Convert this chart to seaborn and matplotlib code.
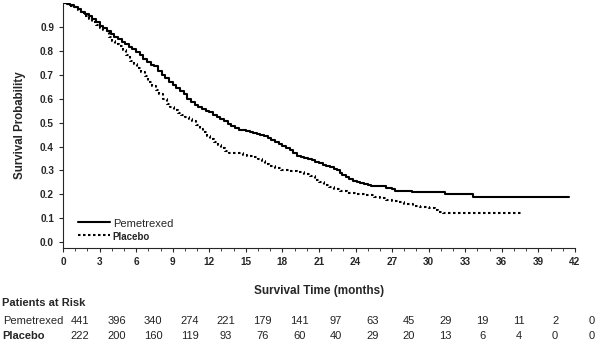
import numpy as np
import pandas as pd
import seaborn as sns
import matplotlib.pyplot as plt
from matplotlib.lines import Line2D
from matplotlib.ticker import MultipleLocator

sns.set_style("ticks")
plt.rcParams['font.family'] = ['Liberation Sans', 'DejaVu Sans']

# Kaplan-Meier step curves (months, survival probability)
pem_time = [0, 0.3, 0.6, 0.9, 1.2, 1.5, 1.8, 2.1, 2.4, 2.7, 3.0, 3.3, 3.6, 3.9, 4.2,
            4.5, 4.8, 5.1, 5.4, 5.7, 6.0, 6.3, 6.6, 6.9, 7.2, 7.5, 7.8, 8.1, 8.4, 8.7,
            9.0, 9.3, 9.6, 9.9, 10.2, 10.5, 10.8, 11.1, 11.4, 11.7, 12.0, 12.3, 12.6,
            12.9, 13.2, 13.5, 13.8, 14.1, 14.4, 14.7, 15.0, 15.3, 15.6, 15.9, 16.2,
            16.5, 16.8, 17.1, 17.4, 17.7, 18.0, 18.3, 18.6, 18.9, 19.2, 19.5, 19.8,
            20.1, 20.4, 20.7, 21.0, 21.3, 21.6, 21.9, 22.2, 22.5, 22.7, 22.9, 23.2,
            23.5, 23.8, 24.1, 24.4, 24.7, 25.0, 25.3, 26.0, 26.5, 27.0, 27.2, 28.6,
            31.3, 33.6, 41.5]
pem_surv = [1.0, 0.997, 0.993, 0.985, 0.975, 0.965, 0.955, 0.945, 0.935, 0.92, 0.905,
            0.895, 0.885, 0.872, 0.86, 0.848, 0.838, 0.828, 0.818, 0.808, 0.797, 0.783,
            0.768, 0.752, 0.742, 0.735, 0.718, 0.70, 0.685, 0.67, 0.658, 0.645, 0.632,
            0.618, 0.60, 0.585, 0.575, 0.566, 0.558, 0.55, 0.543, 0.532, 0.522, 0.514,
            0.505, 0.495, 0.484, 0.476, 0.471, 0.468, 0.466, 0.462, 0.458, 0.454, 0.45,
            0.443, 0.435, 0.426, 0.418, 0.41, 0.402, 0.393, 0.384, 0.372, 0.362, 0.357,
            0.353, 0.348, 0.342, 0.336, 0.33, 0.324, 0.318, 0.314, 0.308, 0.303, 0.29,
            0.28, 0.272, 0.265, 0.258, 0.25, 0.248, 0.243, 0.238, 0.234, 0.233, 0.228,
            0.223, 0.215, 0.21, 0.20, 0.188, 0.188]

pla_time = [0, 0.3, 0.6, 0.9, 1.2, 1.5, 1.8, 2.1, 2.4, 2.7, 3.0, 3.3, 3.6, 3.8, 4.0,
            4.3, 4.6, 4.9, 5.2, 5.5, 5.8, 6.1, 6.4, 6.7, 7.0, 7.3, 7.6, 7.9, 8.2, 8.5,
            8.8, 9.1, 9.4, 9.7, 10.0, 10.3, 10.6, 10.9, 11.2, 11.5, 11.8, 12.1, 12.4,
            12.7, 13.0, 13.3, 13.6, 14.2, 14.8, 15.1, 15.6, 16.0, 16.3, 16.6, 16.9,
            17.4, 17.9, 18.5, 19.2, 19.8, 20.3, 20.7, 21.0, 21.4, 21.8, 22.2, 22.7,
            23.3, 24.0, 24.8, 25.5, 26.0, 26.5, 27.0, 27.5, 28.0, 28.7, 29.3, 30.0,
            30.5, 30.8, 31.2, 37.6]
pla_surv = [1.0, 0.995, 0.99, 0.982, 0.972, 0.96, 0.948, 0.935, 0.922, 0.91, 0.898,
            0.888, 0.878, 0.86, 0.842, 0.83, 0.82, 0.805, 0.785, 0.76, 0.745, 0.728,
            0.712, 0.695, 0.672, 0.652, 0.635, 0.62, 0.60, 0.58, 0.565, 0.553, 0.54,
            0.53, 0.522, 0.515, 0.505, 0.492, 0.475, 0.46, 0.445, 0.43, 0.418, 0.405,
            0.393, 0.38, 0.374, 0.371, 0.366, 0.36, 0.356, 0.35, 0.34, 0.328, 0.318,
            0.312, 0.303, 0.298, 0.292, 0.285, 0.275, 0.262, 0.25, 0.238, 0.23, 0.222,
            0.214, 0.205, 0.201, 0.198, 0.19, 0.185, 0.176, 0.172, 0.167, 0.16, 0.153,
            0.148, 0.145, 0.136, 0.128, 0.12, 0.12]

# patients at risk table
risk_times = [0, 3, 6, 9, 12, 15, 18, 21, 24, 27, 30, 33, 36, 39, 42]
risk_pem = [441, 396, 340, 274, 221, 179, 141, 97, 63, 45, 29, 19, 11, 2, 0]
risk_pla = [222, 200, 160, 119, 93, 76, 60, 40, 29, 20, 13, 6, 4, 0, 0]

pem = pd.DataFrame({'time': pem_time, 'surv': pem_surv})
pla = pd.DataFrame({'time': pla_time, 'surv': pla_surv})

fig = plt.figure(figsize=(6.02, 3.5), dpi=100)
ax = fig.add_axes([0.1047, 0.291, 0.8503, 0.7])

sns.lineplot(data=pem, x='time', y='surv', ax=ax, color='black', linewidth=1.5,
             estimator=None, drawstyle='steps-post')
sns.lineplot(data=pla, x='time', y='surv', ax=ax, color='black', linewidth=1.5,
             linestyle=(0, (1.2, 1.2)), estimator=None, drawstyle='steps-post')

ax.set_xlim(0, 42)
ax.set_ylim(-0.025, 1.0)
ax.set_xticks(risk_times)
ax.xaxis.set_minor_locator(MultipleLocator(1))
ax.set_yticks(np.arange(0, 1.0, 0.1))
ax.set_yticklabels([f'{v:.1f}' for v in np.arange(0, 1.0, 0.1)])
ax.tick_params(axis='both', which='major', labelsize=7.2, length=3, width=0.8)
ax.tick_params(axis='both', which='minor', length=1.8, width=0.6)
for lab in ax.get_xticklabels() + ax.get_yticklabels():
    lab.set_fontweight('bold')
sns.despine(ax=ax)
for sp in ['left', 'bottom']:
    ax.spines[sp].set_linewidth(0.8)

ax.set_xlabel('Survival Time (months)', fontsize=8.5, fontweight='bold', labelpad=13)
ax.set_ylabel('Survival Probability', fontsize=8.3, fontweight='bold', labelpad=10)

handles = [Line2D([], [], color='black', linewidth=1.5),
           Line2D([], [], color='black', linewidth=1.5, linestyle=(0, (1.2, 1.2)))]
leg = ax.legend(handles, ['Pemetrexed', 'Placebo'], loc='lower left', frameon=False,
                handlelength=2.3, handletextpad=0.2, labelspacing=0.05,
                bbox_to_anchor=(0.005, -0.025))
leg.get_texts()[0].set_fontsize(8)
leg.get_texts()[1].set_fontsize(7)
leg.get_texts()[1].set_fontweight('bold')

# risk table under the axis
fig.text(0.004, 1 - 303 / 350, 'Patients at Risk', fontsize=8, fontweight='bold',
         va='center', ha='left')
fig.text(0.006, 1 - 321 / 350, 'Pemetrexed', fontsize=8, va='center', ha='left')
fig.text(0.004, 1 - 336 / 350, 'Placebo', fontsize=8, fontweight='bold',
         va='center', ha='left')
trans = ax.get_xaxis_transform()
for t, a, b in zip(risk_times, risk_pem, risk_pla):
    x = t + 1.38
    ax.text(x, -(321 - 248) / 245, str(a), transform=trans, fontsize=8,
            ha='center', va='center', color='#222222', clip_on=False)
    ax.text(x, -(336 - 248) / 245, str(b), transform=trans, fontsize=8,
            ha='center', va='center', color='#222222', clip_on=False)

fig.savefig('out.png', dpi=100)
